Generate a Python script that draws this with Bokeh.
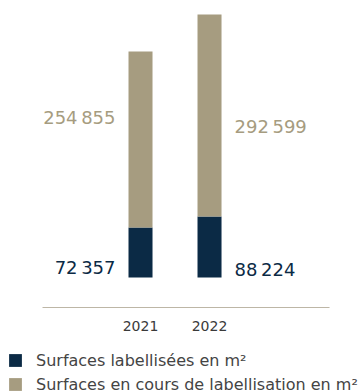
from bokeh.plotting import figure
from bokeh.models import ColumnDataSource, Range1d, Legend, LegendItem
from bokeh.core.properties import value
from bokeh.embed import file_html
from bokeh.resources import INLINE

years = ["2021", "2022"]
labelled = [72357, 88224]
in_progress = [254855, 292599]
series_names = ["Surfaces labellisées en m²", "Surfaces en cours de labellisation en m²"]

NAVY = "#0b2a45"
BEIGE = "#a69c80"
FONT = "DejaVu Sans"

def fmt(v):
    s = f"{v:,}"
    return s.replace(",", "\u2009")

idx = list(range(len(years)))
src = ColumnDataSource(dict(x=idx, year=years, labelled=labelled, in_progress=in_progress))

p = figure(width=358, height=392, output_backend="svg", toolbar_location=None,
           x_axis_location=None, y_axis_location=None,
           x_range=Range1d(-2.029, 3.159), y_range=Range1d(-166520, 401096),
           min_border=0, outline_line_color=None)
p.grid.visible = False
p.background_fill_color = None
p.border_fill_color = None

rs = p.vbar_stack(["labelled", "in_progress"], x="x", width=0.348, source=src,
                  color=[NAVY, BEIGE], line_color=None)

# baseline rule
p.segment(x0=[-1.42], y0=[-43440], x1=[2.739], y1=[-43440], line_color="#bdb6a6", line_width=1)

# year labels
p.text(x="x", y=-69504, text="year", source=src, text_align="center", text_baseline="middle",
       text_font=value(FONT), text_font_size="14px", text_color="#3a3a3a")

# value labels (alternating sides)
side = [-1, 1]
ip_y = [231680, 218648]
lab_y = [14480, 11584]
lsrc = ColumnDataSource(dict(
    x=idx,
    ip_txt=[fmt(v) for v in in_progress],
    lab_txt=[fmt(v) for v in labelled],
    ip_y=ip_y, lab_y=lab_y,
    xo=[25 * s for s in side],
    align=["right" if s < 0 else "left" for s in side],
))
p.text(x="x", y="ip_y", text="ip_txt", source=lsrc, x_offset="xo", text_align="align",
       text_baseline="middle", text_font=value(FONT), text_font_size="18px", text_color=BEIGE)
p.text(x="x", y="lab_y", text="lab_txt", source=lsrc, x_offset="xo", text_align="align",
       text_baseline="middle", text_font=value(FONT), text_font_size="18px", text_color=NAVY)

legend = Legend(items=[LegendItem(label=series_names[i], renderers=[rs[i]]) for i in range(2)],
                location=(7, -2), orientation="vertical",
                glyph_width=16, glyph_height=16, label_height=20, spacing=4,
                label_standoff=13, padding=0, margin=0,
                border_line_color=None, background_fill_alpha=0,
                label_text_font=FONT, label_text_font_size="16px", label_text_color="#444444")
p.add_layout(legend)

open("out.html", "w").write(file_html(p, INLINE))
